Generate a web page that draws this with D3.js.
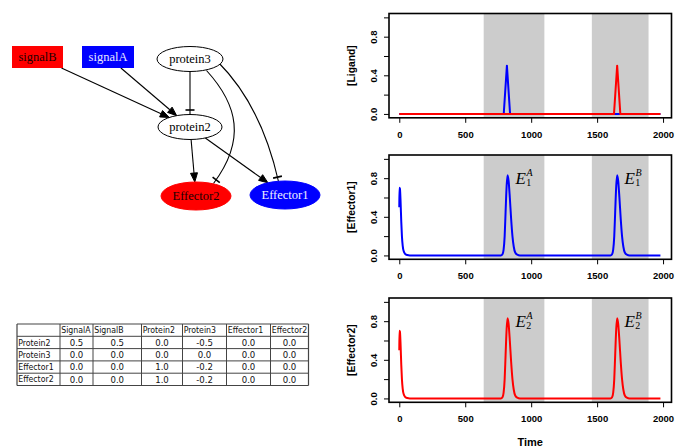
<!DOCTYPE html>
<html><head><meta charset="utf-8">
<script src="https://cdn.jsdelivr.net/npm/d3@7"></script>
<style>body{margin:0;background:#fff;} svg{display:block;}</style>
</head><body>
<svg id="c" width="685" height="447"></svg>
<script>
// ================= DATA =================
const timeTicks = [0, 500, 1000, 1500, 2000];
const yTicks = [0, 0.2, 0.4, 0.6, 0.8, 1.0];
const yTickLabels = ["0.0", "", "0.4", "", "0.8", ""];
const shadeStart = [640, 1460];
const shadeEnd = [1100, 1890];

const ligandA_t = [0, 792, 816, 840, 1980];
const ligandA_v = [0, 0, 0.5, 0, 0];
const ligandB_t = [0, 1628, 1652, 1676, 1980];
const ligandB_v = [0, 0, 0.5, 0, 0];

const effector1_t = [0, 1, 5, 10, 15, 20, 26, 33, 45, 60, 80,
  770, 782, 791, 799, 806, 814, 821, 829, 838, 848, 858, 868, 879, 895, 915,
  1601, 1613, 1622, 1630, 1637, 1645, 1652, 1660, 1669, 1679, 1689, 1699, 1710, 1726, 1746, 1980];
const effector1_v = [0.5, 0.7, 0.69, 0.55, 0.35, 0.2, 0.1, 0.045, 0.015, 0.004, 0,
  0, 0.01, 0.06, 0.2, 0.45, 0.72, 0.83, 0.77, 0.6, 0.38, 0.2, 0.09, 0.03, 0.008, 0,
  0, 0.01, 0.06, 0.2, 0.45, 0.72, 0.83, 0.77, 0.6, 0.38, 0.2, 0.09, 0.03, 0.008, 0, 0];
const effector2_t = [0, 1, 5, 10, 15, 20, 26, 33, 45, 60, 80,
  770, 782, 791, 799, 806, 814, 821, 829, 838, 848, 858, 868, 879, 895, 915,
  1601, 1613, 1622, 1630, 1637, 1645, 1652, 1660, 1669, 1679, 1689, 1699, 1710, 1726, 1746, 1980];
const effector2_v = [0.5, 0.7, 0.69, 0.55, 0.35, 0.2, 0.1, 0.045, 0.015, 0.004, 0,
  0, 0.01, 0.06, 0.2, 0.45, 0.72, 0.83, 0.77, 0.6, 0.38, 0.2, 0.09, 0.03, 0.008, 0,
  0, 0.01, 0.06, 0.2, 0.45, 0.72, 0.83, 0.77, 0.6, 0.38, 0.2, 0.09, 0.03, 0.008, 0, 0];

const panelTitles = ["[Ligand]", "[Effector1]", "[Effector2]"];
const xTitle = "Time";
const peakLabelSup = ["A", "B"];
const peakLabelTime = [882, 1708];
const peakLabelLevel = 0.74;

// network diagram
const nodeNames = ["signalB", "signalA", "protein3", "protein2", "Effector2", "Effector1"];
const edgeFrom = ["signalB", "signalA", "protein3", "protein3", "protein3", "protein2", "protein2"];
const edgeTo = ["protein2", "protein2", "protein2", "Effector2", "Effector1", "Effector2", "Effector1"];
const edgeType = ["activate", "activate", "inhibit", "inhibit", "inhibit", "activate", "activate"];

// interaction table
const tableCols = ["SignalA", "SignalB", "Protein2", "Protein3", "Effector1", "Effector2"];
const tableRows = ["Protein2", "Protein3", "Effector1", "Effector2"];
const tableVals = [
  [0.5, 0.5, 0.0, -0.5, 0.0, 0.0],
  [0.0, 0.0, 0.0, 0.0, 0.0, 0.0],
  [0.0, 0.0, 1.0, -0.2, 0.0, 0.0],
  [0.0, 0.0, 1.0, -0.2, 0.0, 0.0]
];

// ================= LAYOUT / STYLE =================
const svg = d3.select("#c");
const BLUE = "#0000ff", RED = "#ff0000";

const nodeLayout = {
  signalB:  {shape: "box", cx: 37.5, cy: 57, w: 51, h: 22, fill: RED, text: "#200000"},
  signalA:  {shape: "box", cx: 108, cy: 57, w: 52, h: 22, fill: BLUE, text: "#e8e8ff"},
  protein3: {shape: "ellipse", cx: 190, cy: 59, rx: 33, ry: 12.5, fill: "#fff", text: "#000"},
  protein2: {shape: "ellipse", cx: 190, cy: 127, rx: 32, ry: 12.5, fill: "#fff", text: "#000"},
  Effector2:{shape: "ellipse", cx: 196, cy: 196, rx: 35, ry: 14, fill: RED, text: "#200000"},
  Effector1:{shape: "ellipse", cx: 285, cy: 195, rx: 35, ry: 14, fill: BLUE, text: "#f0f0ff"}
};
const curveLayout = {
  "protein3>Effector2": [[206.5, 70.5], [238, 105], [246, 140], [213.5, 183.5]],
  "protein3>Effector1": [[218, 62], [248, 92], [268, 135], [278.5, 181.5]]
};

function boundary(n, dx, dy) {
  if (n.shape === "box") {
    const t = Math.min(n.w / 2 / Math.abs(dx || 1e-9), n.h / 2 / Math.abs(dy || 1e-9));
    return [n.cx + dx * t, n.cy + dy * t];
  }
  const t = 1 / Math.sqrt((dx / n.rx) ** 2 + (dy / n.ry) ** 2);
  return [n.cx + dx * t, n.cy + dy * t];
}

const gNet = svg.append("g");
const gEdges = gNet.append("g");
edgeFrom.forEach((f, i) => {
  const s = nodeLayout[f], t = nodeLayout[edgeTo[i]];
  const key = f + ">" + edgeTo[i];
  let end, dir, pathD;
  if (curveLayout[key]) {
    const c = curveLayout[key];
    end = c[3];
    dir = [c[3][0] - c[2][0], c[3][1] - c[2][1]];
    pathD = `M${c[0]}C${c[1]} ${c[2]} ${c[3]}`;
  } else {
    const dx = t.cx - s.cx, dy = t.cy - s.cy;
    const st = boundary(s, dx, dy);
    end = boundary(t, -dx, -dy);
    dir = [dx, dy];
    const L = Math.hypot(...dir), u = [dir[0] / L, dir[1] / L];
    const lineEnd = edgeType[i] === "activate" ? [end[0] - u[0] * 9, end[1] - u[1] * 9] : end;
    pathD = `M${st}L${lineEnd}`;
  }
  const L = Math.hypot(...dir), u = [dir[0] / L, dir[1] / L], p = [-u[1], u[0]];
  gEdges.append("path").attr("d", pathD).attr("fill", "none").attr("stroke", "#000").attr("stroke-width", 1.1);
  if (edgeType[i] === "activate") {
    const b = [end[0] - u[0] * 9, end[1] - u[1] * 9];
    gEdges.append("path")
      .attr("d", `M${end}L${b[0] + p[0] * 3.5},${b[1] + p[1] * 3.5}L${b[0] - p[0] * 3.5},${b[1] - p[1] * 3.5}Z`)
      .attr("fill", "#000").attr("stroke", "#000").attr("stroke-width", 1);
  } else {
    const b = [end[0] - u[0] * 4.5, end[1] - u[1] * 4.5];
    gEdges.append("line")
      .attr("x1", b[0] + p[0] * 4.5).attr("y1", b[1] + p[1] * 4.5)
      .attr("x2", b[0] - p[0] * 4.5).attr("y2", b[1] - p[1] * 4.5)
      .attr("stroke", "#000").attr("stroke-width", 1.6);
  }
});
const gNodes = gNet.append("g");
nodeNames.forEach(name => {
  const n = nodeLayout[name];
  if (n.shape === "box") {
    gNodes.append("rect").attr("x", n.cx - n.w / 2).attr("y", n.cy - n.h / 2)
      .attr("width", n.w).attr("height", n.h).attr("fill", n.fill);
  } else {
    gNodes.append("ellipse").attr("cx", n.cx).attr("cy", n.cy).attr("rx", n.rx).attr("ry", n.ry)
      .attr("fill", n.fill).attr("stroke", n.fill === "#fff" ? "#000" : n.fill).attr("stroke-width", 1);
  }
  gNodes.append("text").attr("x", n.cx).attr("y", n.cy).attr("dy", "0.34em")
    .attr("text-anchor", "middle").attr("font-family", "'Liberation Serif', serif")
    .attr("font-size", 12.5).attr("fill", n.text).text(name);
});

// ================= TABLE =================
const colEdges = [17, 60, 93, 141.5, 182.5, 226.5, 270.5, 308.5];
const tableTop = 324, rowH = 12.3;
const gTab = svg.append("g").attr("font-family", "'DejaVu Sans Condensed', 'DejaVu Sans', sans-serif").attr("font-size", 8.7).attr("fill", "#111");
const nR = tableRows.length + 1;
for (let r = 0; r <= nR; r++) {
  gTab.append("line").attr("x1", colEdges[0]).attr("x2", colEdges[colEdges.length - 1])
    .attr("y1", tableTop + r * rowH).attr("y2", tableTop + r * rowH)
    .attr("stroke", "#444").attr("stroke-width", r === 0 || r === nR ? 1.2 : 1);
}
colEdges.forEach((x, c) => {
  gTab.append("line").attr("x1", x).attr("x2", x).attr("y1", tableTop).attr("y2", tableTop + nR * rowH)
    .attr("stroke", "#444").attr("stroke-width", c === 0 || c === colEdges.length - 1 ? 1.2 : 1);
});
tableCols.forEach((h, c) => {
  gTab.append("text").attr("x", colEdges[c + 1] + 1.2).attr("y", tableTop + rowH / 2).attr("dy", "0.36em").text(h);
});
tableRows.forEach((rname, r) => {
  const yy = tableTop + (r + 1.5) * rowH;
  gTab.append("text").attr("x", colEdges[0] + 1.2).attr("y", yy).attr("dy", "0.36em").text(rname);
  tableVals[r].forEach((v, c) => {
    gTab.append("text").attr("x", (colEdges[c + 1] + colEdges[c + 2]) / 2).attr("y", yy).attr("dy", "0.36em")
      .attr("text-anchor", "middle").attr("font-size", 9.5).text(v.toFixed(1));
  });
});

// ================= PLOTS =================
const plotLeft = 389, plotRight = 671.5;
const panelTop = [13.5, 155, 298];
const panelH = 104.3;
const x = d3.scaleLinear().domain([-78, 2064]).range([plotLeft, plotRight]);
const SANS = "'Liberation Sans', Arial, sans-serif";

const panels = [
  {series: [[ligandA_t, ligandA_v, BLUE], [ligandB_t, ligandB_v, RED]], labels: null},
  {series: [[effector1_t, effector1_v, BLUE]], labels: "1"},
  {series: [[effector2_t, effector2_v, RED]], labels: "2"}
];

panels.forEach((pan, k) => {
  const top = panelTop[k];
  const y = d3.scaleLinear().domain([-0.04, 1.04]).range([top + panelH, top]);
  const g = svg.append("g");
  shadeStart.forEach((s, i) => {
    g.append("rect").attr("x", x(s)).attr("y", top).attr("width", x(shadeEnd[i]) - x(s))
      .attr("height", panelH).attr("fill", "#cccccc");
  });
  pan.series.forEach(([ts, vs, col]) => {
    const pts = ts.map((t, i) => [t, vs[i]]);
    g.append("path").datum(pts)
      .attr("d", d3.line().x(d => x(d[0])).y(d => y(d[1])).curve(k === 0 ? d3.curveLinear : d3.curveMonotoneX))
      .attr("fill", "none").attr("stroke", col).attr("stroke-width", 2).attr("stroke-linejoin", "round");
  });
  g.append("rect").attr("x", plotLeft).attr("y", top).attr("width", plotRight - plotLeft).attr("height", panelH)
    .attr("fill", "none").attr("stroke", "#000").attr("stroke-width", 1.6);
  const ax = g.append("g").attr("transform", `translate(0,${top + panelH})`)
    .call(d3.axisBottom(x).tickValues(timeTicks).tickFormat(d3.format("d")).tickSize(5).tickSizeOuter(0).tickPadding(8));
  ax.select(".domain").remove();
  ax.selectAll("text").attr("font-family", SANS).attr("font-weight", "bold")
    .attr("font-size", 9.5).attr("fill", "#000");
  const ay = g.append("g").attr("transform", `translate(${plotLeft},0)`)
    .call(d3.axisLeft(y).tickValues(yTicks).tickSize(5).tickSizeOuter(0).tickFormat((d, i) => yTickLabels[i]));
  ay.select(".domain").remove();
  ay.selectAll("text").attr("x", null).attr("dy", null)
    .attr("transform", "translate(-15,0) rotate(-90)").attr("text-anchor", "middle").attr("dy", "0.35em")
    .attr("font-family", SANS).attr("font-weight", "bold")
    .attr("font-size", 9.5).attr("fill", "#000");
  g.append("text").attr("transform", `translate(351,${top + panelH / 2}) rotate(-90)`)
    .attr("text-anchor", "middle").attr("dy", "0.35em")
    .attr("font-family", SANS).attr("font-weight", "bold")
    .attr("font-size", 10.3).text(panelTitles[k]);
  if (pan.labels) {
    peakLabelTime.forEach((t, i) => {
      const lx = x(t), ly = y(peakLabelLevel);
      const tx = g.append("text").attr("x", lx).attr("y", ly).attr("font-family", "'Liberation Serif', serif");
      tx.append("tspan").attr("font-style", "italic").attr("font-size", 17).text("E");
      tx.append("tspan").attr("font-style", "italic").attr("font-size", 10).attr("dx", 0.5).attr("dy", -7.5).text(peakLabelSup[i]);
      tx.append("tspan").attr("font-size", 10).attr("dx", -6.3).attr("dy", 9.5).text(pan.labels);
    });
  }
});
svg.append("text").attr("x", (plotLeft + plotRight) / 2).attr("y", 442).attr("dy", "0.35em")
  .attr("text-anchor", "middle").attr("font-family", SANS)
  .attr("font-weight", "bold").attr("font-size", 11).text(xTitle);
</script>
</body></html>
